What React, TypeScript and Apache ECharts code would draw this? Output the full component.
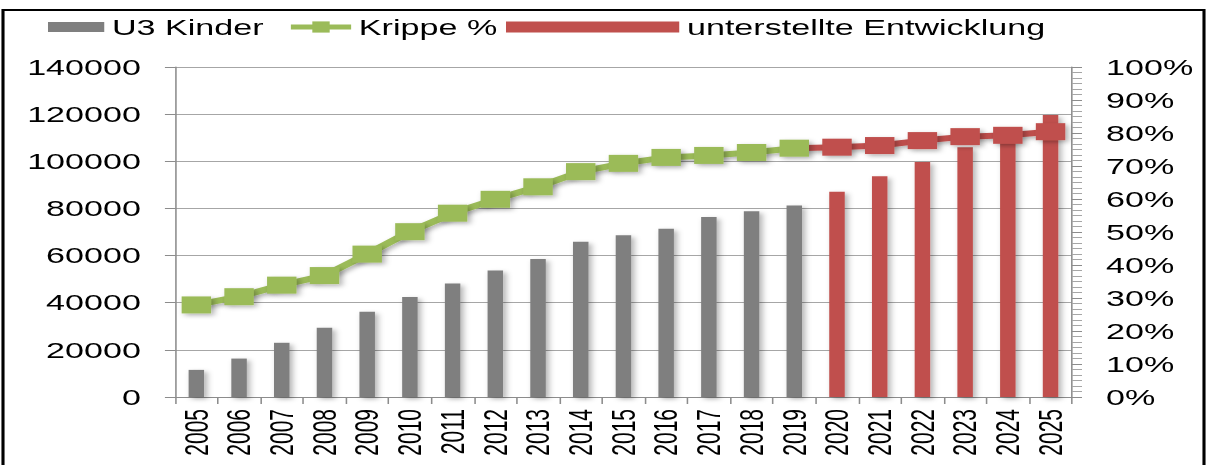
import React, { useEffect, useRef } from "react";
import * as echarts from "echarts";

const years = ["2005","2006","2007","2008","2009","2010","2011","2012","2013","2014","2015","2016","2017","2018","2019","2020","2021","2022","2023","2024","2025"];
const u3Kinder = [11500, 16300, 23000, 29400, 36200, 42400, 48100, 53700, 58500, 65900, 68600, 71400, 76400, 78800, 81200];
const u3Projected = [87100, 93600, 99700, 106000, 112500, 119600];
const krippe = [27.9, 30.4, 33.9, 36.8, 43.3, 50.1, 55.7, 59.9, 63.7, 68.3, 70.8, 72.6, 73.2, 74.1, 75.4];
const krippeProjected = [75.7, 76.2, 77.7, 78.9, 79.3, 80.4];
const leftTicks = { min: 0, max: 140000, interval: 20000 };
const rightTicks = { min: 0, max: 100, interval: 10 };

const S = 1.55;
const W = 1206;
const H = 465;
const IW = W / S;
const FONT = "'Liberation Sans', Arial, sans-serif";

export default function App() {
  const ref = useRef<HTMLDivElement>(null);
  useEffect(() => {
    if (!ref.current) return;
    const chart = echarts.init(ref.current, null, { renderer: "svg" });
    const nHist = u3Kinder.length;
    const nProj = u3Projected.length;
    const greyData = [...u3Kinder, ...Array(nProj).fill("-")];
    const redData = [...Array(nHist).fill("-"), ...u3Projected];
    const greenLine = [...krippe, ...Array(nProj).fill("-")];
    const redLine: any[] = [
      ...Array(nHist - 1).fill("-"),
      { value: krippe[nHist - 1], symbol: "none" },
      ...krippeProjected,
    ];
    const textStyle = { fontFamily: FONT, fontSize: 22, color: "#000" };
    const shadow = {
      shadowBlur: 4,
      shadowColor: "rgba(0,0,0,0.3)",
      shadowOffsetX: 2,
      shadowOffsetY: 2,
    };
    const gridCol = "#a6a6a6";
    const axisCol = "#8c8c8c";
    chart.setOption({
      animation: false,
      backgroundColor: "#fff",
      textStyle: { fontFamily: FONT },
      graphic: [
        {
          type: "rect",
          silent: true,
          z: -1,
          shape: { x: 3 / S, y: 10, width: (1204 - 3) / S, height: 480 },
          style: { fill: "none", stroke: "#000", lineWidth: 2 },
        },
      ],
      legend: [
        {
          data: ["U3 Kinder"],
          left: 48 / S,
          top: 16,
          padding: 0,
          icon: "rect",
          itemWidth: (112 - 48) / S - 5,
          itemHeight: 10,
          textStyle,
          selectedMode: false,
        },
        {
          data: [{ name: "Krippe %", lineStyle: { width: 5 } }],
          left: 287 / S,
          top: 16,
          padding: 0,
          itemWidth: (355 - 287) / S - 5,
          itemHeight: 14,
          lineStyle: { width: 5 },
          textStyle,
          selectedMode: false,
        },
        {
          data: ["unterstellte Entwicklung"],
          left: 506 / S,
          top: 16,
          padding: 0,
          icon: "rect",
          itemWidth: (687 - 506) / S - 5,
          itemHeight: 11,
          textStyle,
          selectedMode: false,
        },
      ],
      grid: {
        left: 175 / S,
        right: IW - 1072 / S,
        top: 67,
        bottom: 68,
        containLabel: false,
        outerBoundsMode: "none",
      },
      xAxis: {
        type: "category",
        data: years,
        boundaryGap: true,
        axisLine: { show: true, lineStyle: { color: axisCol, width: 1 } },
        axisTick: { show: true, length: 7, lineStyle: { color: axisCol } },
        axisLabel: {
          rotate: 90,
          interval: 0,
          fontSize: 21,
          fontFamily: FONT,
          color: "#000",
          margin: 12,
        },
      },
      yAxis: [
        {
          type: "value",
          position: "left",
          ...leftTicks,
          axisLine: { show: true, lineStyle: { color: axisCol } },
          axisTick: { show: true, length: 6.5, lineStyle: { color: axisCol } },
          splitLine: { show: true, lineStyle: { color: gridCol, width: 1 } },
          axisLabel: {
            formatter: (v: number) => String(v),
            fontSize: 22,
            fontFamily: FONT,
            color: "#000",
            margin: 22,
          },
        },
        {
          type: "value",
          position: "right",
          ...rightTicks,
          axisLine: { show: true, lineStyle: { color: axisCol } },
          axisTick: { show: true, length: 6.5, lineStyle: { color: axisCol } },
          minorTick: { show: true, splitNumber: 6, length: 6.5, lineStyle: { color: gridCol } },
          splitLine: { show: false },
          axisLabel: {
            formatter: "{value}%",
            fontSize: 22,
            fontFamily: FONT,
            color: "#000",
            margin: 22,
          },
        },
      ],
      series: [
        {
          name: "U3 Kinder",
          type: "bar",
          stack: "b",
          barWidth: 10,
          data: greyData,
          itemStyle: { color: "#7f7f7f", ...shadow },
        },
        {
          name: "unterstellte Entwicklung",
          type: "bar",
          stack: "b",
          barWidth: 10,
          data: redData,
          itemStyle: { color: "#c0504d", ...shadow },
        },
        {
          name: "Krippe Prognose",
          type: "line",
          yAxisIndex: 1,
          data: redLine,
          symbol: "rect",
          symbolSize: [19, 17],
          lineStyle: { color: "#c0504d", width: 6, ...shadow },
          itemStyle: { color: "#c0504d", ...shadow },
          z: 3,
        },
        {
          name: "Krippe %",
          type: "line",
          yAxisIndex: 1,
          data: greenLine,
          symbol: "rect",
          symbolSize: [19, 17],
          lineStyle: { color: "#9bbb59", width: 6, ...shadow },
          itemStyle: { color: "#9bbb59", ...shadow },
          z: 4,
        },
      ],
    });
    return () => chart.dispose();
  }, []);
  return (
    <div
      style={{
        position: "absolute",
        left: 0,
        top: 0,
        width: W,
        height: H,
        overflow: "hidden",
        background: "#fff",
      }}
    >
      <div
        ref={ref}
        style={{
          width: IW,
          height: H,
          transform: `scaleX(${S})`,
          transformOrigin: "0 0",
        }}
      />
    </div>
  );
}
